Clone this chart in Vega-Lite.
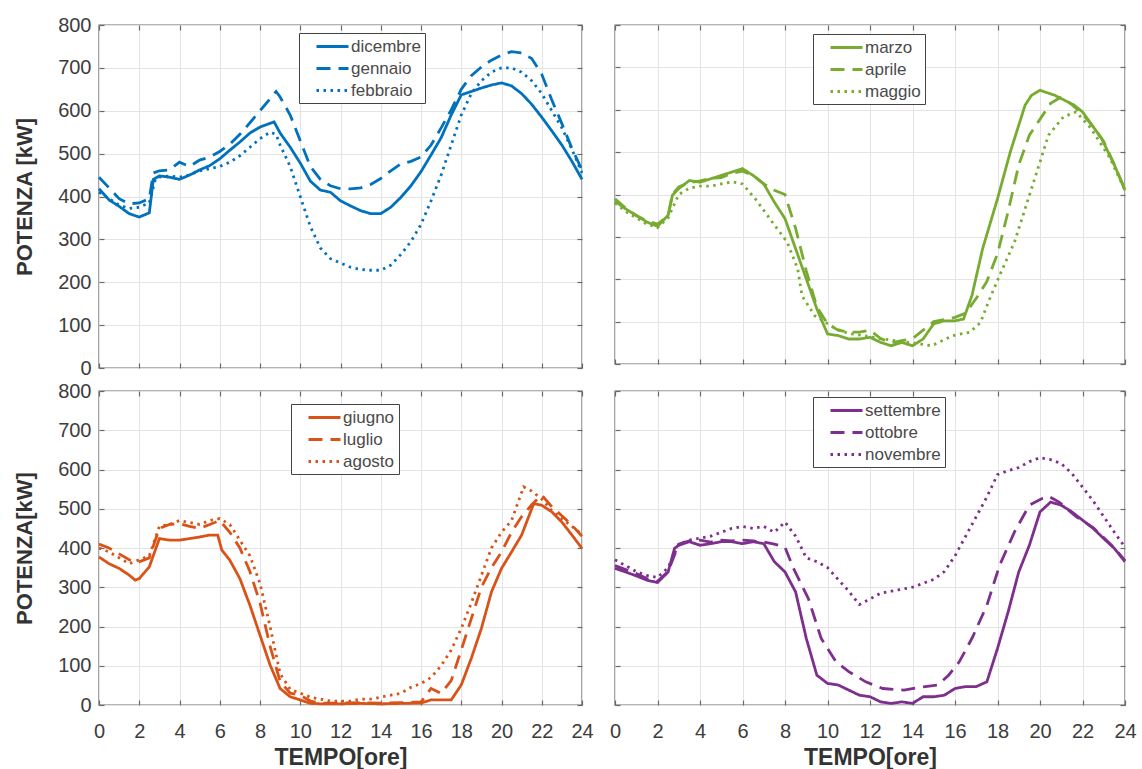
{
"$schema": "https://vega.github.io/schema/vega-lite/v6.json",
"background": "white",
"padding": {"left": 12, "top": 14, "right": 5, "bottom": 2},
"columns": 2,
"align": "each",
"bounds": "flush",
"spacing": {"row": 23, "column": 33},
"resolve": {"scale": {"strokeDash": "independent", "x": "independent", "y": "independent"}, "legend": {"strokeDash": "independent"}},
"datasets": {
"inv": [
{"m":"dicembre","h":0,"p":418},{"m":"dicembre","h":0.5,"p":392},{"m":"dicembre","h":1,"p":377},{"m":"dicembre","h":1.5,"p":360},{"m":"dicembre","h":2,"p":352},{"m":"dicembre","h":2.5,"p":362},{"m":"dicembre","h":2.7,"p":440},{"m":"dicembre","h":3,"p":448},{"m":"dicembre","h":3.5,"p":445},{"m":"dicembre","h":4,"p":440},{"m":"dicembre","h":4.5,"p":450},{"m":"dicembre","h":5,"p":462},{"m":"dicembre","h":5.5,"p":472},{"m":"dicembre","h":6,"p":488},{"m":"dicembre","h":6.5,"p":508},{"m":"dicembre","h":7,"p":527},{"m":"dicembre","h":7.5,"p":548},{"m":"dicembre","h":8,"p":562},{"m":"dicembre","h":8.7,"p":574},{"m":"dicembre","h":9,"p":548},{"m":"dicembre","h":9.5,"p":515},{"m":"dicembre","h":10,"p":478},{"m":"dicembre","h":10.5,"p":436},{"m":"dicembre","h":11,"p":415},{"m":"dicembre","h":11.5,"p":410},{"m":"dicembre","h":12,"p":390},{"m":"dicembre","h":12.5,"p":378},{"m":"dicembre","h":13,"p":367},{"m":"dicembre","h":13.5,"p":360},{"m":"dicembre","h":14,"p":360},{"m":"dicembre","h":14.5,"p":375},{"m":"dicembre","h":15,"p":398},{"m":"dicembre","h":15.5,"p":425},{"m":"dicembre","h":16,"p":458},{"m":"dicembre","h":16.5,"p":497},{"m":"dicembre","h":17,"p":537},{"m":"dicembre","h":17.5,"p":590},{"m":"dicembre","h":18,"p":637},{"m":"dicembre","h":18.5,"p":645},{"m":"dicembre","h":19,"p":653},{"m":"dicembre","h":19.5,"p":660},{"m":"dicembre","h":20,"p":665},{"m":"dicembre","h":20.5,"p":658},{"m":"dicembre","h":21,"p":640},{"m":"dicembre","h":21.5,"p":615},{"m":"dicembre","h":22,"p":585},{"m":"dicembre","h":22.5,"p":553},{"m":"dicembre","h":23,"p":520},{"m":"dicembre","h":23.5,"p":482},{"m":"dicembre","h":24,"p":440},
{"m":"gennaio","h":0,"p":445},{"m":"gennaio","h":0.5,"p":420},{"m":"gennaio","h":1,"p":395},{"m":"gennaio","h":1.5,"p":383},{"m":"gennaio","h":2,"p":385},{"m":"gennaio","h":2.5,"p":395},{"m":"gennaio","h":2.7,"p":455},{"m":"gennaio","h":3,"p":460},{"m":"gennaio","h":3.5,"p":462},{"m":"gennaio","h":4,"p":480},{"m":"gennaio","h":4.5,"p":470},{"m":"gennaio","h":5,"p":485},{"m":"gennaio","h":5.5,"p":492},{"m":"gennaio","h":6,"p":505},{"m":"gennaio","h":6.5,"p":522},{"m":"gennaio","h":7,"p":545},{"m":"gennaio","h":7.5,"p":572},{"m":"gennaio","h":8,"p":600},{"m":"gennaio","h":8.5,"p":628},{"m":"gennaio","h":8.8,"p":645},{"m":"gennaio","h":9,"p":632},{"m":"gennaio","h":9.5,"p":590},{"m":"gennaio","h":10,"p":530},{"m":"gennaio","h":10.5,"p":470},{"m":"gennaio","h":11,"p":440},{"m":"gennaio","h":11.5,"p":425},{"m":"gennaio","h":12,"p":418},{"m":"gennaio","h":12.5,"p":418},{"m":"gennaio","h":13,"p":420},{"m":"gennaio","h":13.5,"p":428},{"m":"gennaio","h":14,"p":442},{"m":"gennaio","h":14.5,"p":460},{"m":"gennaio","h":15,"p":476},{"m":"gennaio","h":15.5,"p":482},{"m":"gennaio","h":16,"p":492},{"m":"gennaio","h":16.5,"p":520},{"m":"gennaio","h":17,"p":560},{"m":"gennaio","h":17.5,"p":602},{"m":"gennaio","h":18,"p":650},{"m":"gennaio","h":18.5,"p":682},{"m":"gennaio","h":19,"p":702},{"m":"gennaio","h":19.5,"p":718},{"m":"gennaio","h":20,"p":730},{"m":"gennaio","h":20.5,"p":738},{"m":"gennaio","h":21,"p":735},{"m":"gennaio","h":21.5,"p":722},{"m":"gennaio","h":22,"p":685},{"m":"gennaio","h":22.5,"p":625},{"m":"gennaio","h":23,"p":570},{"m":"gennaio","h":23.5,"p":512},{"m":"gennaio","h":24,"p":462},
{"m":"febbraio","h":0,"p":410},{"m":"febbraio","h":0.5,"p":395},{"m":"febbraio","h":1,"p":380},{"m":"febbraio","h":1.5,"p":372},{"m":"febbraio","h":2,"p":375},{"m":"febbraio","h":2.5,"p":385},{"m":"febbraio","h":2.8,"p":440},{"m":"febbraio","h":3,"p":445},{"m":"febbraio","h":3.5,"p":448},{"m":"febbraio","h":4,"p":445},{"m":"febbraio","h":4.5,"p":450},{"m":"febbraio","h":5,"p":460},{"m":"febbraio","h":5.5,"p":465},{"m":"febbraio","h":6,"p":470},{"m":"febbraio","h":6.5,"p":480},{"m":"febbraio","h":7,"p":495},{"m":"febbraio","h":7.5,"p":515},{"m":"febbraio","h":8,"p":535},{"m":"febbraio","h":8.5,"p":550},{"m":"febbraio","h":8.8,"p":545},{"m":"febbraio","h":9,"p":520},{"m":"febbraio","h":9.5,"p":470},{"m":"febbraio","h":10,"p":400},{"m":"febbraio","h":10.5,"p":330},{"m":"febbraio","h":11,"p":280},{"m":"febbraio","h":11.5,"p":255},{"m":"febbraio","h":12,"p":245},{"m":"febbraio","h":12.5,"p":235},{"m":"febbraio","h":13,"p":230},{"m":"febbraio","h":13.5,"p":228},{"m":"febbraio","h":14,"p":228},{"m":"febbraio","h":14.5,"p":240},{"m":"febbraio","h":15,"p":265},{"m":"febbraio","h":15.5,"p":295},{"m":"febbraio","h":16,"p":335},{"m":"febbraio","h":16.5,"p":390},{"m":"febbraio","h":17,"p":450},{"m":"febbraio","h":17.5,"p":520},{"m":"febbraio","h":18,"p":590},{"m":"febbraio","h":18.5,"p":640},{"m":"febbraio","h":19,"p":670},{"m":"febbraio","h":19.5,"p":690},{"m":"febbraio","h":20,"p":700},{"m":"febbraio","h":20.5,"p":700},{"m":"febbraio","h":21,"p":690},{"m":"febbraio","h":21.5,"p":670},{"m":"febbraio","h":22,"p":640},{"m":"febbraio","h":22.5,"p":600},{"m":"febbraio","h":23,"p":560},{"m":"febbraio","h":23.5,"p":510},{"m":"febbraio","h":24,"p":455}
],
"pri": [
{"m":"marzo","h":0,"p":384},{"m":"marzo","h":0.5,"p":366},{"m":"marzo","h":1,"p":351},{"m":"marzo","h":1.5,"p":335},{"m":"marzo","h":2,"p":325},{"m":"marzo","h":2.5,"p":351},{"m":"marzo","h":2.7,"p":398},{"m":"marzo","h":3,"p":414},{"m":"marzo","h":3.5,"p":433},{"m":"marzo","h":4,"p":429},{"m":"marzo","h":4.5,"p":437},{"m":"marzo","h":5,"p":445},{"m":"marzo","h":5.5,"p":453},{"m":"marzo","h":6,"p":461},{"m":"marzo","h":6.5,"p":445},{"m":"marzo","h":7,"p":425},{"m":"marzo","h":7.5,"p":382},{"m":"marzo","h":8,"p":343},{"m":"marzo","h":8.5,"p":272},{"m":"marzo","h":9,"p":201},{"m":"marzo","h":9.5,"p":130},{"m":"marzo","h":10,"p":71},{"m":"marzo","h":10.5,"p":67},{"m":"marzo","h":11,"p":59},{"m":"marzo","h":11.5,"p":59},{"m":"marzo","h":12,"p":63},{"m":"marzo","h":12.5,"p":51},{"m":"marzo","h":13,"p":43},{"m":"marzo","h":13.5,"p":51},{"m":"marzo","h":14,"p":43},{"m":"marzo","h":14.5,"p":59},{"m":"marzo","h":15,"p":95},{"m":"marzo","h":15.5,"p":102},{"m":"marzo","h":16,"p":102},{"m":"marzo","h":16.4,"p":106},{"m":"marzo","h":16.8,"p":162},{"m":"marzo","h":17.3,"p":272},{"m":"marzo","h":18,"p":390},{"m":"marzo","h":18.6,"p":500},{"m":"marzo","h":19.3,"p":611},{"m":"marzo","h":19.6,"p":634},{"m":"marzo","h":20,"p":646},{"m":"marzo","h":20.7,"p":634},{"m":"marzo","h":21.6,"p":611},{"m":"marzo","h":22,"p":595},{"m":"marzo","h":22.9,"p":532},{"m":"marzo","h":23.5,"p":470},{"m":"marzo","h":24,"p":410},
{"m":"aprile","h":0,"p":390},{"m":"aprile","h":0.5,"p":368},{"m":"aprile","h":1,"p":350},{"m":"aprile","h":1.5,"p":338},{"m":"aprile","h":2,"p":330},{"m":"aprile","h":2.5,"p":350},{"m":"aprile","h":2.7,"p":400},{"m":"aprile","h":3,"p":418},{"m":"aprile","h":3.5,"p":428},{"m":"aprile","h":4,"p":432},{"m":"aprile","h":4.5,"p":438},{"m":"aprile","h":5,"p":440},{"m":"aprile","h":5.5,"p":450},{"m":"aprile","h":6,"p":455},{"m":"aprile","h":6.5,"p":445},{"m":"aprile","h":7,"p":425},{"m":"aprile","h":7.5,"p":410},{"m":"aprile","h":8,"p":400},{"m":"aprile","h":8.5,"p":320},{"m":"aprile","h":9,"p":220},{"m":"aprile","h":9.5,"p":135},{"m":"aprile","h":10,"p":95},{"m":"aprile","h":10.5,"p":80},{"m":"aprile","h":11,"p":75},{"m":"aprile","h":11.5,"p":75},{"m":"aprile","h":12,"p":80},{"m":"aprile","h":12.5,"p":60},{"m":"aprile","h":13,"p":50},{"m":"aprile","h":13.5,"p":55},{"m":"aprile","h":14,"p":60},{"m":"aprile","h":14.5,"p":80},{"m":"aprile","h":15,"p":100},{"m":"aprile","h":15.5,"p":105},{"m":"aprile","h":16,"p":110},{"m":"aprile","h":16.5,"p":120},{"m":"aprile","h":17,"p":155},{"m":"aprile","h":17.5,"p":195},{"m":"aprile","h":18,"p":260},{"m":"aprile","h":18.5,"p":360},{"m":"aprile","h":19,"p":470},{"m":"aprile","h":19.5,"p":540},{"m":"aprile","h":20.1,"p":585},{"m":"aprile","h":20.5,"p":615},{"m":"aprile","h":21,"p":630},{"m":"aprile","h":21.5,"p":612},{"m":"aprile","h":22,"p":590},{"m":"aprile","h":22.5,"p":560},{"m":"aprile","h":23,"p":525},{"m":"aprile","h":23.5,"p":470},{"m":"aprile","h":24,"p":412},
{"m":"maggio","h":0,"p":380},{"m":"maggio","h":0.5,"p":360},{"m":"maggio","h":1,"p":345},{"m":"maggio","h":1.5,"p":330},{"m":"maggio","h":2,"p":322},{"m":"maggio","h":2.5,"p":345},{"m":"maggio","h":3,"p":400},{"m":"maggio","h":3.5,"p":415},{"m":"maggio","h":4,"p":420},{"m":"maggio","h":4.5,"p":420},{"m":"maggio","h":5,"p":425},{"m":"maggio","h":5.5,"p":430},{"m":"maggio","h":6,"p":425},{"m":"maggio","h":6.6,"p":390},{"m":"maggio","h":7.4,"p":335},{"m":"maggio","h":8.1,"p":288},{"m":"maggio","h":8.6,"p":224},{"m":"maggio","h":8.8,"p":161},{"m":"maggio","h":9.4,"p":114},{"m":"maggio","h":10.4,"p":83},{"m":"maggio","h":11,"p":72},{"m":"maggio","h":11.7,"p":67},{"m":"maggio","h":12.5,"p":60},{"m":"maggio","h":13.2,"p":55},{"m":"maggio","h":14,"p":50},{"m":"maggio","h":14.9,"p":43},{"m":"maggio","h":15.9,"p":67},{"m":"maggio","h":16.7,"p":75},{"m":"maggio","h":17.2,"p":98},{"m":"maggio","h":17.6,"p":150},{"m":"maggio","h":18.1,"p":209},{"m":"maggio","h":18.8,"p":288},{"m":"maggio","h":19.4,"p":382},{"m":"maggio","h":19.9,"p":461},{"m":"maggio","h":20.4,"p":540},{"m":"maggio","h":21.1,"p":583},{"m":"maggio","h":21.7,"p":595},{"m":"maggio","h":22.4,"p":556},{"m":"maggio","h":23.3,"p":485},{"m":"maggio","h":24,"p":410}
],
"est": [
{"m":"giugno","h":0,"p":377},{"m":"giugno","h":0.5,"p":360},{"m":"giugno","h":1,"p":348},{"m":"giugno","h":1.5,"p":331},{"m":"giugno","h":1.8,"p":318},{"m":"giugno","h":2,"p":322},{"m":"giugno","h":2.5,"p":352},{"m":"giugno","h":3,"p":424},{"m":"giugno","h":3.5,"p":420},{"m":"giugno","h":4,"p":420},{"m":"giugno","h":4.5,"p":424},{"m":"giugno","h":5,"p":428},{"m":"giugno","h":5.5,"p":433},{"m":"giugno","h":5.9,"p":433},{"m":"giugno","h":6.1,"p":395},{"m":"giugno","h":6.5,"p":369},{"m":"giugno","h":7,"p":322},{"m":"giugno","h":7.5,"p":254},{"m":"giugno","h":8,"p":178},{"m":"giugno","h":8.5,"p":102},{"m":"giugno","h":9,"p":42},{"m":"giugno","h":9.5,"p":21},{"m":"giugno","h":10,"p":13},{"m":"giugno","h":10.5,"p":4},{"m":"giugno","h":11,"p":3},{"m":"giugno","h":12,"p":3},{"m":"giugno","h":13,"p":4},{"m":"giugno","h":14,"p":3},{"m":"giugno","h":15,"p":4},{"m":"giugno","h":16,"p":5},{"m":"giugno","h":16.5,"p":13},{"m":"giugno","h":17,"p":13},{"m":"giugno","h":17.5,"p":13},{"m":"giugno","h":18,"p":51},{"m":"giugno","h":18.5,"p":119},{"m":"giugno","h":19,"p":195},{"m":"giugno","h":19.5,"p":288},{"m":"giugno","h":20,"p":348},{"m":"giugno","h":20.5,"p":390},{"m":"giugno","h":21,"p":433},{"m":"giugno","h":21.6,"p":513},{"m":"giugno","h":22,"p":509},{"m":"giugno","h":22.5,"p":492},{"m":"giugno","h":23,"p":466},{"m":"giugno","h":23.5,"p":433},{"m":"giugno","h":24,"p":399},
{"m":"luglio","h":0,"p":410},{"m":"luglio","h":0.5,"p":400},{"m":"luglio","h":1,"p":385},{"m":"luglio","h":1.5,"p":370},{"m":"luglio","h":2,"p":365},{"m":"luglio","h":2.5,"p":375},{"m":"luglio","h":3,"p":450},{"m":"luglio","h":3.5,"p":460},{"m":"luglio","h":4,"p":462},{"m":"luglio","h":4.5,"p":455},{"m":"luglio","h":5,"p":450},{"m":"luglio","h":5.5,"p":460},{"m":"luglio","h":6,"p":470},{"m":"luglio","h":6.5,"p":440},{"m":"luglio","h":7,"p":400},{"m":"luglio","h":7.5,"p":340},{"m":"luglio","h":8,"p":260},{"m":"luglio","h":8.5,"p":150},{"m":"luglio","h":9,"p":60},{"m":"luglio","h":9.5,"p":30},{"m":"luglio","h":10,"p":25},{"m":"luglio","h":10.5,"p":10},{"m":"luglio","h":11,"p":5},{"m":"luglio","h":12,"p":5},{"m":"luglio","h":13,"p":6},{"m":"luglio","h":14,"p":5},{"m":"luglio","h":15,"p":6},{"m":"luglio","h":16,"p":8},{"m":"luglio","h":16.5,"p":42},{"m":"luglio","h":17,"p":30},{"m":"luglio","h":17.5,"p":62},{"m":"luglio","h":18,"p":140},{"m":"luglio","h":18.5,"p":220},{"m":"luglio","h":19,"p":300},{"m":"luglio","h":19.5,"p":350},{"m":"luglio","h":20,"p":390},{"m":"luglio","h":20.5,"p":440},{"m":"luglio","h":21,"p":480},{"m":"luglio","h":21.5,"p":510},{"m":"luglio","h":22,"p":535},{"m":"luglio","h":22.5,"p":505},{"m":"luglio","h":23,"p":482},{"m":"luglio","h":23.5,"p":458},{"m":"luglio","h":24,"p":430},
{"m":"agosto","h":0,"p":400},{"m":"agosto","h":0.5,"p":390},{"m":"agosto","h":1,"p":375},{"m":"agosto","h":1.5,"p":360},{"m":"agosto","h":2,"p":370},{"m":"agosto","h":2.5,"p":380},{"m":"agosto","h":3,"p":455},{"m":"agosto","h":3.5,"p":460},{"m":"agosto","h":4,"p":470},{"m":"agosto","h":4.5,"p":465},{"m":"agosto","h":5,"p":460},{"m":"agosto","h":5.5,"p":470},{"m":"agosto","h":6,"p":475},{"m":"agosto","h":6.5,"p":460},{"m":"agosto","h":7,"p":420},{"m":"agosto","h":7.5,"p":380},{"m":"agosto","h":8,"p":310},{"m":"agosto","h":8.5,"p":200},{"m":"agosto","h":9,"p":80},{"m":"agosto","h":9.5,"p":40},{"m":"agosto","h":10,"p":30},{"m":"agosto","h":10.5,"p":20},{"m":"agosto","h":11,"p":15},{"m":"agosto","h":11.5,"p":10},{"m":"agosto","h":12,"p":10},{"m":"agosto","h":12.5,"p":10},{"m":"agosto","h":13,"p":15},{"m":"agosto","h":13.5,"p":15},{"m":"agosto","h":14,"p":20},{"m":"agosto","h":14.5,"p":25},{"m":"agosto","h":15,"p":30},{"m":"agosto","h":15.5,"p":45},{"m":"agosto","h":16,"p":55},{"m":"agosto","h":16.5,"p":70},{"m":"agosto","h":17,"p":100},{"m":"agosto","h":17.5,"p":140},{"m":"agosto","h":18,"p":195},{"m":"agosto","h":18.5,"p":260},{"m":"agosto","h":19,"p":330},{"m":"agosto","h":19.5,"p":400},{"m":"agosto","h":20,"p":440},{"m":"agosto","h":20.5,"p":470},{"m":"agosto","h":21.1,"p":556},{"m":"agosto","h":21.5,"p":545},{"m":"agosto","h":22,"p":525},{"m":"agosto","h":22.5,"p":495},{"m":"agosto","h":23,"p":475},{"m":"agosto","h":23.5,"p":455},{"m":"agosto","h":24,"p":435}
],
"aut": [
{"m":"settembre","h":0,"p":348},{"m":"settembre","h":0.5,"p":339},{"m":"settembre","h":1,"p":329},{"m":"settembre","h":1.5,"p":318},{"m":"settembre","h":2,"p":312},{"m":"settembre","h":2.5,"p":339},{"m":"settembre","h":2.8,"p":399},{"m":"settembre","h":3,"p":407},{"m":"settembre","h":3.5,"p":416},{"m":"settembre","h":4,"p":407},{"m":"settembre","h":4.5,"p":411},{"m":"settembre","h":5,"p":416},{"m":"settembre","h":5.5,"p":416},{"m":"settembre","h":6,"p":411},{"m":"settembre","h":6.5,"p":416},{"m":"settembre","h":7,"p":411},{"m":"settembre","h":7.5,"p":365},{"m":"settembre","h":8,"p":339},{"m":"settembre","h":8.5,"p":288},{"m":"settembre","h":9,"p":170},{"m":"settembre","h":9.5,"p":76},{"m":"settembre","h":10,"p":55},{"m":"settembre","h":10.5,"p":51},{"m":"settembre","h":11,"p":38},{"m":"settembre","h":11.5,"p":25},{"m":"settembre","h":12,"p":21},{"m":"settembre","h":12.5,"p":8},{"m":"settembre","h":13,"p":4},{"m":"settembre","h":13.5,"p":8},{"m":"settembre","h":14,"p":4},{"m":"settembre","h":14.5,"p":21},{"m":"settembre","h":15,"p":21},{"m":"settembre","h":15.5,"p":25},{"m":"settembre","h":16,"p":42},{"m":"settembre","h":16.5,"p":47},{"m":"settembre","h":17,"p":47},{"m":"settembre","h":17.5,"p":59},{"m":"settembre","h":18,"p":144},{"m":"settembre","h":18.5,"p":237},{"m":"settembre","h":19,"p":339},{"m":"settembre","h":19.5,"p":407},{"m":"settembre","h":20,"p":492},{"m":"settembre","h":20.5,"p":517},{"m":"settembre","h":21,"p":509},{"m":"settembre","h":21.5,"p":492},{"m":"settembre","h":22,"p":471},{"m":"settembre","h":22.5,"p":450},{"m":"settembre","h":23,"p":424},{"m":"settembre","h":23.5,"p":399},{"m":"settembre","h":24,"p":365},
{"m":"ottobre","h":0,"p":355},{"m":"ottobre","h":0.5,"p":345},{"m":"ottobre","h":1,"p":335},{"m":"ottobre","h":1.5,"p":322},{"m":"ottobre","h":2,"p":315},{"m":"ottobre","h":2.5,"p":340},{"m":"ottobre","h":3,"p":410},{"m":"ottobre","h":3.5,"p":418},{"m":"ottobre","h":4,"p":420},{"m":"ottobre","h":4.5,"p":415},{"m":"ottobre","h":5,"p":420},{"m":"ottobre","h":5.5,"p":418},{"m":"ottobre","h":6,"p":420},{"m":"ottobre","h":6.5,"p":418},{"m":"ottobre","h":7,"p":415},{"m":"ottobre","h":7.5,"p":410},{"m":"ottobre","h":8,"p":402},{"m":"ottobre","h":8.4,"p":348},{"m":"ottobre","h":9.1,"p":271},{"m":"ottobre","h":9.7,"p":170},{"m":"ottobre","h":10.4,"p":110},{"m":"ottobre","h":11,"p":85},{"m":"ottobre","h":11.8,"p":59},{"m":"ottobre","h":12.6,"p":42},{"m":"ottobre","h":13.6,"p":38},{"m":"ottobre","h":14.6,"p":47},{"m":"ottobre","h":15.2,"p":51},{"m":"ottobre","h":15.7,"p":76},{"m":"ottobre","h":16.2,"p":110},{"m":"ottobre","h":16.8,"p":170},{"m":"ottobre","h":17.5,"p":254},{"m":"ottobre","h":18.1,"p":356},{"m":"ottobre","h":18.8,"p":441},{"m":"ottobre","h":19.5,"p":509},{"m":"ottobre","h":20.1,"p":526},{"m":"ottobre","h":20.4,"p":532},{"m":"ottobre","h":20.9,"p":517},{"m":"ottobre","h":21.7,"p":480},{"m":"ottobre","h":22.5,"p":452},{"m":"ottobre","h":23,"p":426},{"m":"ottobre","h":23.5,"p":400},{"m":"ottobre","h":24,"p":368},
{"m":"novembre","h":0,"p":370},{"m":"novembre","h":0.5,"p":355},{"m":"novembre","h":1,"p":340},{"m":"novembre","h":1.5,"p":330},{"m":"novembre","h":2,"p":325},{"m":"novembre","h":2.5,"p":350},{"m":"novembre","h":3,"p":410},{"m":"novembre","h":3.5,"p":420},{"m":"novembre","h":4,"p":425},{"m":"novembre","h":4.5,"p":430},{"m":"novembre","h":5,"p":440},{"m":"novembre","h":5.5,"p":450},{"m":"novembre","h":6,"p":455},{"m":"novembre","h":6.5,"p":450},{"m":"novembre","h":7,"p":455},{"m":"novembre","h":7.5,"p":440},{"m":"novembre","h":8,"p":466},{"m":"novembre","h":8.5,"p":430},{"m":"novembre","h":9,"p":375},{"m":"novembre","h":9.5,"p":365},{"m":"novembre","h":10,"p":350},{"m":"novembre","h":10.5,"p":320},{"m":"novembre","h":11,"p":290},{"m":"novembre","h":11.5,"p":256},{"m":"novembre","h":12,"p":270},{"m":"novembre","h":12.5,"p":285},{"m":"novembre","h":13,"p":290},{"m":"novembre","h":13.5,"p":295},{"m":"novembre","h":14,"p":300},{"m":"novembre","h":14.5,"p":310},{"m":"novembre","h":15,"p":320},{"m":"novembre","h":15.5,"p":340},{"m":"novembre","h":16,"p":380},{"m":"novembre","h":16.5,"p":430},{"m":"novembre","h":17,"p":480},{"m":"novembre","h":17.5,"p":530},{"m":"novembre","h":18,"p":587},{"m":"novembre","h":18.5,"p":597},{"m":"novembre","h":19,"p":605},{"m":"novembre","h":19.5,"p":620},{"m":"novembre","h":20,"p":630},{"m":"novembre","h":20.5,"p":625},{"m":"novembre","h":21,"p":615},{"m":"novembre","h":21.5,"p":590},{"m":"novembre","h":22,"p":555},{"m":"novembre","h":22.5,"p":520},{"m":"novembre","h":23,"p":480},{"m":"novembre","h":23.5,"p":440},{"m":"novembre","h":24,"p":402}
]
},
"config": {
"font": "Liberation Sans",
"view": {"stroke": "#6a6a6a", "strokeWidth": 1.4},
"axis": {"grid": true, "gridColor": "#e4e4e4", "gridWidth": 1, "domain": false, "ticks": true, "tickSize": -5, "tickColor": "#6a6a6a", "tickWidth": 1.2, "labelFontSize": 20, "labelColor": "#3c3c3c", "labelFont": "Liberation Sans", "titleFont": "Liberation Sans", "titleFontWeight": "bold", "titleColor": "#333333", "labelFlush": false, "labelOverlap": false},
"axisX": {"labelPadding": 21, "titlePadding": 5, "titleFontSize": 23},
"axisY": {"labelPadding": 13, "titlePadding": 21, "titleFontSize": 22},
"legend": {"orient": "none", "title": null, "symbolType": "M0.5,0H4.5", "symbolSize": 256, "symbolStrokeWidth": 3, "symbolFillColor": "transparent", "labelFontSize": 17, "labelColor": "#4a4a4a", "labelFont": "Liberation Sans", "strokeColor": "#444444", "fillColor": "white", "padding": 4, "rowPadding": 4, "labelOffset": 29, "labelExpr": "datum.label + '   '"}
},
"concat": [
{"width": 483, "height": 343, "data": {"name": "inv"},
 "resolve": {"axis": {"x": "independent", "y": "independent"}},
 "layer": [
 {"mark": {"type": "line", "strokeWidth": 2.8, "color": "#0072BD"},
  "encoding": {
   "x": {"field": "h", "type": "quantitative", "scale": {"domain": [0, 24], "nice": false}, "axis": {"values": [0,2,4,6,8,10,12,14,16,18,20,22,24], "labels": false, "title": null}},
   "y": {"field": "p", "type": "quantitative", "scale": {"domain": [0, 800], "nice": false}, "axis": {"values": [0,100,200,300,400,500,600,700,800], "title": "POTENZA [kW]"}},
   "strokeDash": {"field": "m", "type": "nominal", "scale": {"domain": ["dicembre", "gennaio", "febbraio"], "range": [[1, 0], [14, 8], [2.5, 4.5]]}, "legend": {"legendX": 200, "legendY": 8, "symbolStrokeColor": "#0072BD"}}
  }},
 {"mark": {"type": "point", "opacity": 0},
  "encoding": {
   "x": {"field": "h", "type": "quantitative", "axis": {"orient": "top", "values": [0,2,4,6,8,10,12,14,16,18,20,22,24], "labels": false, "grid": false, "title": null}},
   "y": {"field": "p", "type": "quantitative", "axis": {"orient": "right", "values": [0,100,200,300,400,500,600,700,800], "labels": false, "grid": false, "title": null}}
  }}
 ]},
{"width": 510, "height": 339, "data": {"name": "pri"},
 "resolve": {"axis": {"x": "independent", "y": "independent"}},
 "layer": [
 {"mark": {"type": "line", "strokeWidth": 2.8, "color": "#77AC30"},
  "encoding": {
   "x": {"field": "h", "type": "quantitative", "scale": {"domain": [0, 24], "nice": false}, "axis": {"values": [0,2,4,6,8,10,12,14,16,18,20,22,24], "labels": false, "title": null}},
   "y": {"field": "p", "type": "quantitative", "scale": {"domain": [0, 800], "nice": false}, "axis": {"values": [0,100,200,300,400,500,600,700,800], "labels": false, "title": null}},
   "strokeDash": {"field": "m", "type": "nominal", "scale": {"domain": ["marzo", "aprile", "maggio"], "range": [[1, 0], [14, 8], [2.5, 4.5]]}, "legend": {"legendX": 198, "legendY": 9, "symbolStrokeColor": "#77AC30"}}
  }},
 {"mark": {"type": "point", "opacity": 0},
  "encoding": {
   "x": {"field": "h", "type": "quantitative", "axis": {"orient": "top", "values": [0,2,4,6,8,10,12,14,16,18,20,22,24], "labels": false, "grid": false, "title": null}},
   "y": {"field": "p", "type": "quantitative", "axis": {"orient": "right", "values": [0,100,200,300,400,500,600,700,800], "labels": false, "grid": false, "title": null}}
  }}
 ]},
{"width": 483, "height": 314, "data": {"name": "est"},
 "resolve": {"axis": {"x": "independent", "y": "independent"}},
 "layer": [
 {"mark": {"type": "line", "strokeWidth": 2.8, "color": "#D95319"},
  "encoding": {
   "x": {"field": "h", "type": "quantitative", "scale": {"domain": [0, 24], "nice": false}, "axis": {"values": [0,2,4,6,8,10,12,14,16,18,20,22,24], "title": "TEMPO[ore]"}},
   "y": {"field": "p", "type": "quantitative", "scale": {"domain": [0, 800], "nice": false}, "axis": {"values": [0,100,200,300,400,500,600,700,800], "title": "POTENZA[kW]"}},
   "strokeDash": {"field": "m", "type": "nominal", "scale": {"domain": ["giugno", "luglio", "agosto"], "range": [[1, 0], [14, 8], [2.5, 4.5]]}, "legend": {"legendX": 192, "legendY": 13, "symbolStrokeColor": "#D95319"}}
  }},
 {"mark": {"type": "point", "opacity": 0},
  "encoding": {
   "x": {"field": "h", "type": "quantitative", "axis": {"orient": "top", "values": [0,2,4,6,8,10,12,14,16,18,20,22,24], "labels": false, "grid": false, "title": null}},
   "y": {"field": "p", "type": "quantitative", "axis": {"orient": "right", "values": [0,100,200,300,400,500,600,700,800], "labels": false, "grid": false, "title": null}}
  }}
 ]},
{"width": 510, "height": 314, "data": {"name": "aut"},
 "resolve": {"axis": {"x": "independent", "y": "independent"}},
 "layer": [
 {"mark": {"type": "line", "strokeWidth": 2.8, "color": "#7E2F8E"},
  "encoding": {
   "x": {"field": "h", "type": "quantitative", "scale": {"domain": [0, 24], "nice": false}, "axis": {"values": [0,2,4,6,8,10,12,14,16,18,20,22,24], "title": "TEMPO[ore]"}},
   "y": {"field": "p", "type": "quantitative", "scale": {"domain": [0, 800], "nice": false}, "axis": {"values": [0,100,200,300,400,500,600,700,800], "labels": false, "title": null}},
   "strokeDash": {"field": "m", "type": "nominal", "scale": {"domain": ["settembre", "ottobre", "novembre"], "range": [[1, 0], [14, 8], [2.5, 4.5]]}, "legend": {"legendX": 198, "legendY": 6, "symbolStrokeColor": "#7E2F8E"}}
  }},
 {"mark": {"type": "point", "opacity": 0},
  "encoding": {
   "x": {"field": "h", "type": "quantitative", "axis": {"orient": "top", "values": [0,2,4,6,8,10,12,14,16,18,20,22,24], "labels": false, "grid": false, "title": null}},
   "y": {"field": "p", "type": "quantitative", "axis": {"orient": "right", "values": [0,100,200,300,400,500,600,700,800], "labels": false, "grid": false, "title": null}}
  }}
 ]}
]
}
